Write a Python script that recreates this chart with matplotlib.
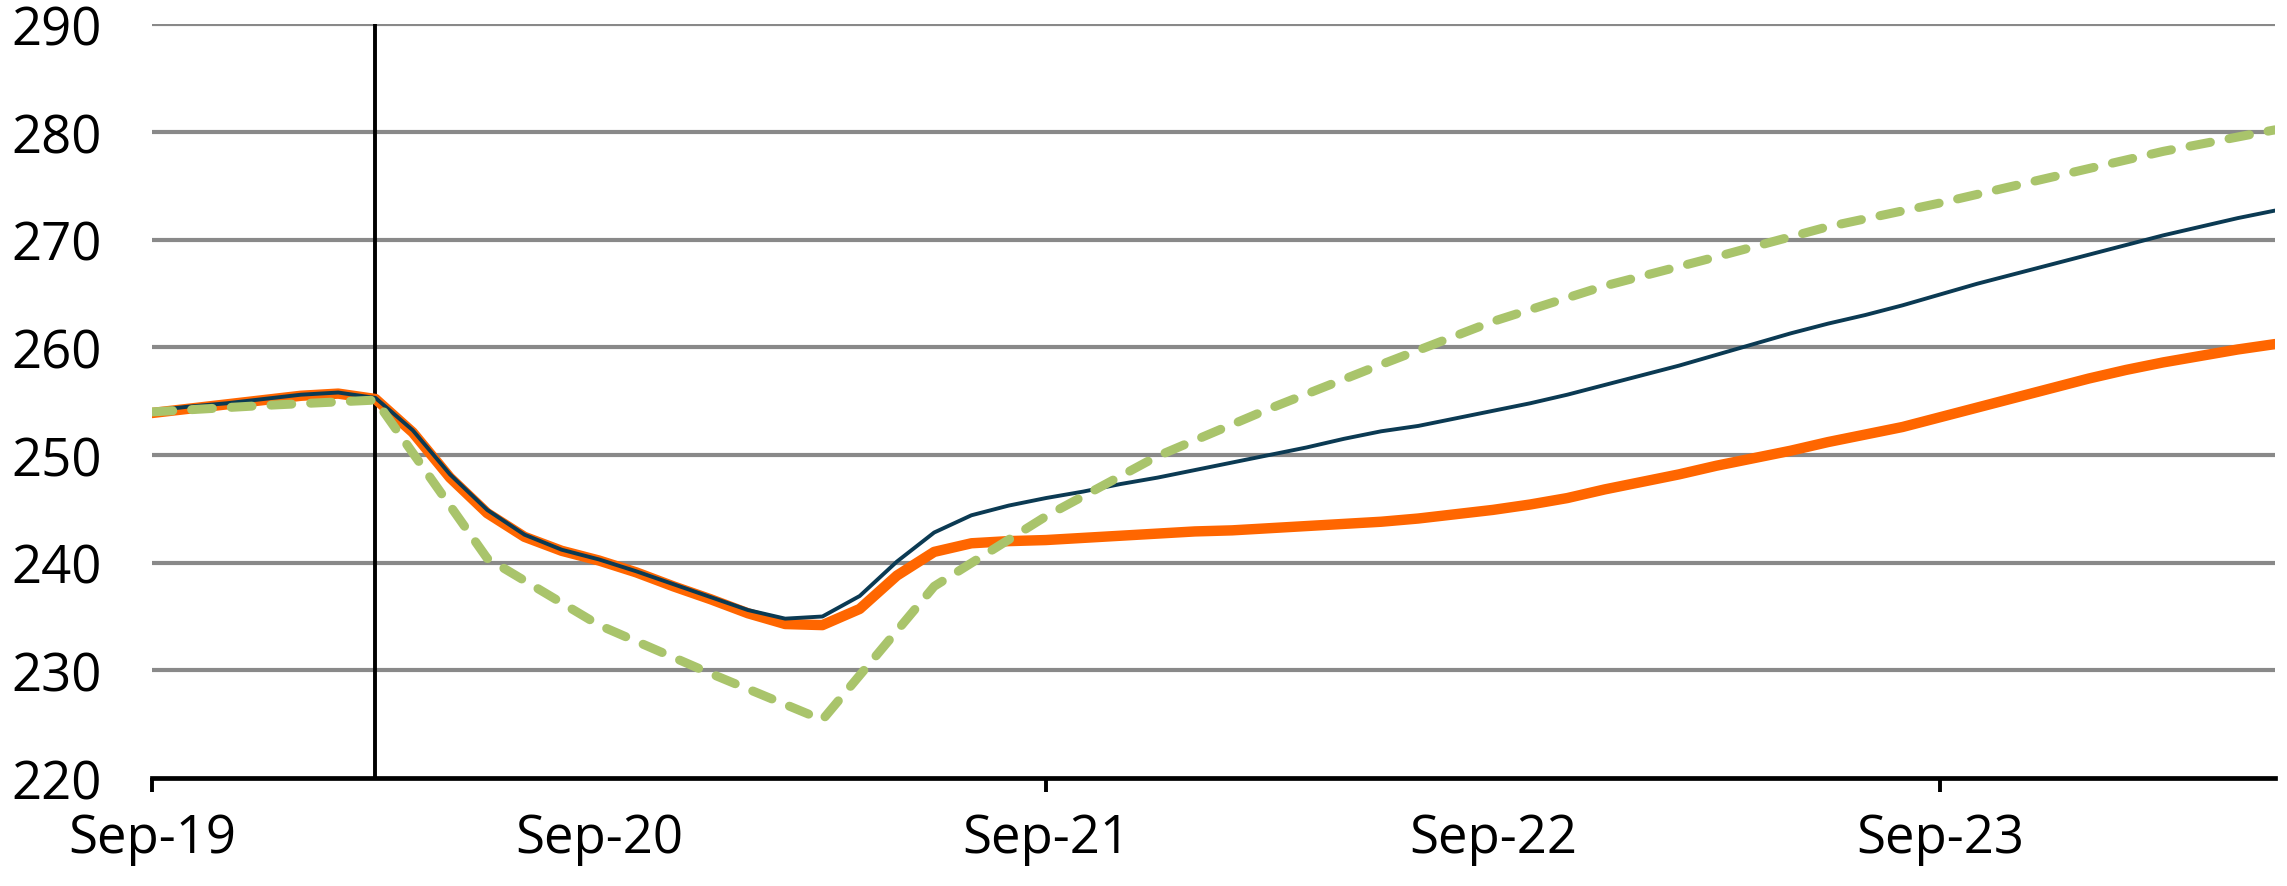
import matplotlib
matplotlib.use("Agg")
import matplotlib.pyplot as plt

plt.rcParams['font.family'] = ['Open Sans', 'DejaVu Sans']

# months since Sep-19
months = list(range(0, 58))

navy = [254.1, 254.5, 254.8, 255.2, 255.6, 255.8, 255.3, 252.3, 248.2, 244.9,
        242.6, 241.2, 240.3, 239.2, 238.0, 236.8, 235.6, 234.8, 235.0, 236.9,
        240.1, 242.8, 244.4, 245.3, 246.0, 246.6, 247.3, 247.9, 248.6, 249.3,
        250.0, 250.7, 251.5, 252.2, 252.7, 253.4, 254.1, 254.8, 255.6, 256.5,
        257.4, 258.3, 259.3, 260.3, 261.3, 262.2, 263.0, 263.9, 264.9, 265.9,
        266.8, 267.7, 268.6, 269.5, 270.4, 271.2, 272.0, 272.7]

orange = [253.9, 254.3, 254.7, 255.1, 255.5, 255.7, 255.2, 252.1, 247.9, 244.6,
          242.4, 241.1, 240.2, 239.1, 237.8, 236.6, 235.3, 234.3, 234.2, 235.7,
          238.8, 241.0, 241.8, 242.0, 242.1, 242.3, 242.5, 242.7, 242.9, 243.0,
          243.2, 243.4, 243.6, 243.8, 244.1, 244.5, 244.9, 245.4, 246.0, 246.8,
          247.5, 248.2, 249.0, 249.7, 250.4, 251.2, 251.9, 252.6, 253.5, 254.4,
          255.3, 256.2, 257.1, 257.9, 258.6, 259.2, 259.8, 260.3]

# quarterly series
green_months = [0, 3, 6, 9, 12, 15, 18, 21, 24, 27, 30, 33, 36, 39, 42, 45, 48, 51, 54, 57]
green = [254.0, 254.6, 255.1, 240.4, 234.2, 229.7, 225.4, 237.8, 244.3, 249.9,
         254.3, 258.4, 262.4, 265.7, 268.4, 271.2, 273.4, 275.8, 278.2, 280.2]

tick_pos = [0, 12, 24, 36, 48]
tick_labels = ['Sep-19', 'Sep-20', 'Sep-21', 'Sep-22', 'Sep-23']
y_ticks = [220, 230, 240, 250, 260, 270, 280, 290]
marker_month = 6  # Mar-20

W, H = 2287, 887
fig = plt.figure(figsize=(W / 100, H / 100), dpi=100)
ax = fig.add_axes([152 / W, 1 - 779 / H, (2275 - 152) / W, (779 - 25.3) / H])

ax.set_xlim(0, 57)
ax.set_ylim(220, 290)

for y in y_ticks[1:]:
    ax.axhline(y, color='#898989', lw=3.0, zorder=1)

ax.plot([marker_month, marker_month], [220, 290], color='black', lw=2.8, zorder=2)

ax.plot(months, orange, color='#FF6600', lw=7.5, solid_capstyle='round',
        solid_joinstyle='round', zorder=3)
ax.plot(months, navy, color='#0B3A53', lw=2.8, solid_capstyle='round',
        solid_joinstyle='round', zorder=4)
ax.plot(green_months, green, color='#A9C46B', lw=6.5, linestyle=(0, (2.3, 2.1)),
        dash_capstyle='round', dash_joinstyle='round', zorder=5)

for s in ['left', 'right', 'top']:
    ax.spines[s].set_visible(False)
ax.spines['bottom'].set_linewidth(3.4)
ax.spines['bottom'].set_color('black')
ax.spines['bottom'].set_zorder(6)

ax.set_yticks(y_ticks)
ax.set_yticklabels([str(v) for v in y_ticks])
ax.tick_params(axis='y', length=0, pad=36, labelsize=38)

ax.set_xticks(tick_pos)
ax.set_xticklabels(tick_labels)
ax.tick_params(axis='x', length=10, width=2.8, direction='out', pad=14, labelsize=38)
for t in ax.xaxis.get_major_ticks()[1::2]:
    t.tick1line.set_visible(False)

fig.savefig('out.png', dpi=100)
